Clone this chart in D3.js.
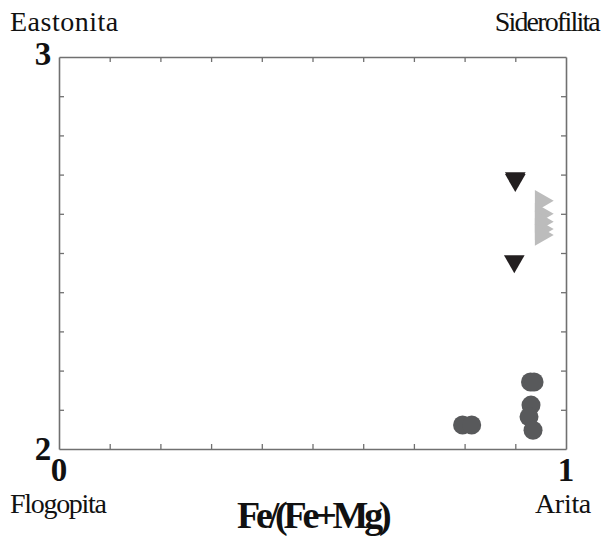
<!DOCTYPE html>
<html><head><meta charset="utf-8">
<script src="https://cdn.jsdelivr.net/npm/d3@7"></script>
<style>body{margin:0;background:#fff}svg{display:block}</style>
</head><body>
<svg id="c" width="607" height="536"></svg>
<script>
// Data
const xDomain = [0, 1];
const yDomain = [2, 3];
const xTickValues = [0.1,0.2,0.3,0.4,0.5,0.6,0.7,0.8,0.9];
const yTickValues = [2.1,2.2,2.3,2.4,2.5,2.6,2.7,2.8,2.9];
const xEndLabels = ["0", "1"];
const yEndLabels = ["2", "3"];
const cornerLabels = ["Eastonita", "Siderofilita", "Flogopita", "Arita"];
const xTitle = "Fe/(Fe+Mg)";

// Series: circles (dark gray)
const circleX = [0.796, 0.814, 0.930, 0.937, 0.931, 0.927, 0.935];
const circleY = [2.061, 2.061, 2.171, 2.171, 2.112, 2.082, 2.048];
// Series: down triangles (black)
const downX = [0.900, 0.900, 0.898];
const downY = [2.691, 2.686, 2.479];
// Series: right triangles (light gray)
const rightX = [0.951, 0.951, 0.951, 0.951, 0.951];
const rightY = [2.633, 2.600, 2.580, 2.561, 2.546];

const svg = d3.select("#c");
const L = 59, R = 566, T = 57, B = 449;
const x = d3.scaleLinear().domain(xDomain).range([L, R]);
const y = d3.scaleLinear().domain(yDomain).range([B, T]);

const axisColor = "#707070";
const tl = 5;
const gB = svg.append("g").attr("transform", `translate(0,${B})`)
  .call(d3.axisBottom(x).tickValues(xTickValues).tickSizeInner(-tl).tickSizeOuter(0).tickFormat(""));
const gT = svg.append("g").attr("transform", `translate(0,${T})`)
  .call(d3.axisTop(x).tickValues(xTickValues).tickSizeInner(-tl).tickSizeOuter(0).tickFormat(""));
const gL = svg.append("g").attr("transform", `translate(${L},0)`)
  .call(d3.axisLeft(y).tickValues(yTickValues).tickSizeInner(-tl).tickSizeOuter(0).tickFormat(""));
const gR = svg.append("g").attr("transform", `translate(${R},0)`)
  .call(d3.axisRight(y).tickValues(yTickValues).tickSizeInner(-tl).tickSizeOuter(0).tickFormat(""));
[gB,gT,gL,gR].forEach(g=>{
  g.selectAll("path").attr("stroke", axisColor).attr("stroke-width", 1.6);
  g.selectAll("line").attr("stroke", axisColor).attr("stroke-width", 1.3);
});

// Markers
svg.append("g").selectAll("circle").data(circleX.map((v,i)=>[v,circleY[i]])).join("circle")
  .attr("cx", d=>x(d[0])).attr("cy", d=>y(d[1])).attr("r", 9.5).attr("fill", "#58595b");

const triRight = d3.symbol().type(d3.symbolTriangle).size(205);
svg.append("g").selectAll("path").data(rightX.map((v,i)=>[v,rightY[i]])).join("path")
  .attr("d", triRight)
  .attr("transform", d=>`translate(${x(d[0])},${y(d[1])}) rotate(90)`)
  .attr("fill", "#bcbcbc");

const triDown = d3.symbol().type(d3.symbolTriangle).size(185);
svg.append("g").selectAll("path").data(downX.map((v,i)=>[v,downY[i]])).join("path")
  .attr("d", triDown)
  .attr("transform", d=>`translate(${x(d[0])},${y(d[1])}) rotate(180)`)
  .attr("fill", "#231f20");

// Text
const serif = "'Liberation Serif','Times New Roman',serif";
function txt(s, xx, yy, size, weight, ls, anchor) {
  const t = svg.append("text").attr("x", xx).attr("y", yy)
    .attr("font-family", serif).attr("font-size", size).attr("font-weight", weight)
    .attr("fill", "#111").text(s);
  if (anchor) t.attr("text-anchor", anchor);
  if (ls) t.attr("letter-spacing", ls);
  return t;
}
txt(cornerLabels[0], 10, 31, 28, "normal", 0.5);
txt(cornerLabels[1], 599, 31, 28, "normal", -1.8, "end");
txt(cornerLabels[2], 10, 513, 28, "normal", -1.3);
txt(cornerLabels[3], 591, 513, 28, "normal", -0.3, "end");
txt(yEndLabels[1], 43, 65, 33, "bold", null, "middle");
txt(yEndLabels[0], 43, 460, 33, "bold", null, "middle");
txt(xEndLabels[0], x(0), 481, 33, "bold", null, "middle");
txt(xEndLabels[1], x(1), 481, 33, "bold", null, "middle");
txt(xTitle, 237, 528, 38, "bold", -4.2);
</script>
</body></html>
